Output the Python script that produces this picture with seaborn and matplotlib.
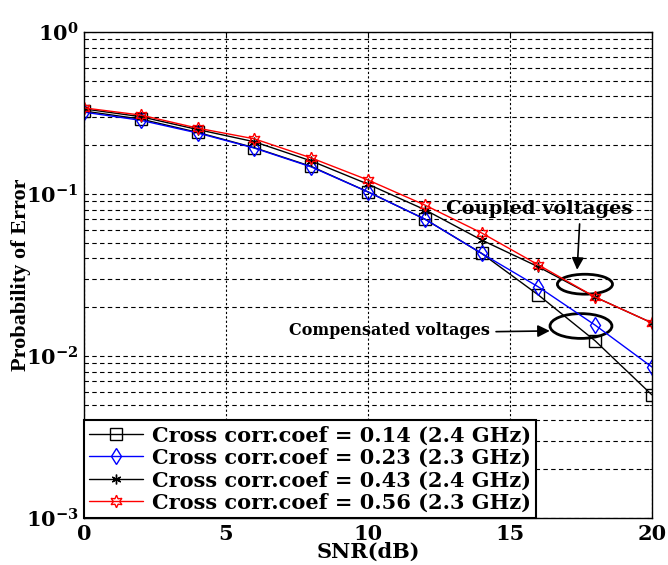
import numpy as np
import pandas as pd
import matplotlib
matplotlib.use("Agg")
import matplotlib.pyplot as plt
from matplotlib.patches import Ellipse
import seaborn as sns

# values
snr_db = [0, 2, 4, 6, 8, 10, 12, 14, 16, 18, 20]
pe_014 = [0.325, 0.29, 0.24, 0.193, 0.148, 0.103, 0.070, 0.043, 0.0238, 0.0124, 0.00575]
pe_023 = [0.32, 0.285, 0.238, 0.192, 0.147, 0.103, 0.070, 0.043, 0.0267, 0.0155, 0.00855]
pe_043 = [0.335, 0.30, 0.25, 0.21, 0.16, 0.115, 0.080, 0.052, 0.0355, 0.0231, 0.016]
pe_056 = [0.34, 0.307, 0.255, 0.219, 0.167, 0.122, 0.0855, 0.0575, 0.0365, 0.0231, 0.016]

labels = ["Cross corr.coef = 0.14 (2.4 GHz)",
          "Cross corr.coef = 0.23 (2.3 GHz)",
          "Cross corr.coef = 0.43 (2.4 GHz)",
          "Cross corr.coef = 0.56 (2.3 GHz)"]
series = [pe_014, pe_023, pe_043, pe_056]
colors = ["black", "blue", "black", "red"]
markers = ["s", "d", (6, 2, 0), (6, 1, 0)]
msizes = [8, 8, 7, 9]

sns.set_style("white")
plt.rcParams['font.family'] = ['DejaVu Serif']
plt.rcParams['font.weight'] = 'bold'
plt.rcParams['mathtext.fontset'] = 'dejavuserif'
plt.rcParams['mathtext.default'] = 'bf'
for k in ['text.color', 'axes.labelcolor', 'xtick.color', 'ytick.color']:
    plt.rcParams[k] = 'black'

fig = plt.figure(figsize=(6.68, 5.65), dpi=100)
ax = fig.add_axes([0.1257, 0.0832, 0.8503, 0.8602])

for vals, lab, c, m, ms in zip(series, labels, colors, markers, msizes):
    df = pd.DataFrame({"snr": snr_db, "pe": vals})
    sns.lineplot(data=df, x="snr", y="pe", ax=ax, color=c, marker=m,
                 markersize=ms, markerfacecolor="none", markeredgecolor=c,
                 markeredgewidth=1.0, linewidth=1.0, label=lab)

ax.set_yscale("log")
ax.set_xlim(0, 20)
ax.set_ylim(1e-3, 1)
ax.set_xticks([0, 5, 10, 15, 20])
ax.set_yticks([1e-3, 1e-2, 1e-1, 1])
ax.set_yticklabels([r"$10^{-3}$", r"$10^{-2}$", r"$10^{-1}$", r"$10^{0}$"])
ax.tick_params(axis="x", labelsize=15, direction="in", top=True, pad=4)
ax.tick_params(axis="y", labelsize=15, direction="in", right=True, pad=4)
ax.tick_params(axis="y", which="minor", direction="in", right=True)

# grid: dashed horizontals at every decade sub-tick, dotted verticals
ax.grid(True, axis="y", which="both", color="black", linestyle=(0, (4, 3)), linewidth=0.8)
ax.grid(True, axis="x", which="major", color="black", linestyle=(0, (2, 2)), linewidth=0.8)
for s in ax.spines.values():
    s.set_color("black")
    s.set_linewidth(1.0)

ax.set_xlabel("SNR(dB)", fontsize=15, fontweight="bold", labelpad=-1)
ax.set_ylabel("Probability of Error", fontsize=16, fontweight="bold",
              family="Liberation Serif")
ax.yaxis.set_label_coords(-0.093, 0.5)

leg = ax.legend(loc="lower left", fontsize=15, frameon=True, fancybox=False,
                edgecolor="black", framealpha=1, borderaxespad=0,
                handlelength=2.6, handletextpad=0.4, labelspacing=0.12,
                borderpad=0.25)
leg.get_frame().set_linewidth(1.5)

# annotations
ax.add_patch(Ellipse((0.882, 0.481), 0.097, 0.041, transform=ax.transAxes,
                     fill=False, edgecolor="black", linewidth=2))
ax.add_patch(Ellipse((0.875, 0.395), 0.109, 0.051, transform=ax.transAxes,
                     fill=False, edgecolor="black", linewidth=2))
ax.annotate("Coupled voltages", xy=(0.868, 0.505), xytext=(0.801, 0.636),
            xycoords="axes fraction", textcoords="axes fraction",
            ha="center", va="center", fontsize=14, fontweight="bold",
            arrowprops=dict(arrowstyle="-|>", color="black", lw=1.2,
                            mutation_scale=18, relpos=(0.72, 0.0)))
ax.annotate("Compensated voltages", xy=(0.825, 0.385), xytext=(0.538, 0.385),
            xycoords="axes fraction", textcoords="axes fraction",
            ha="center", va="center", fontsize=11.5, fontweight="bold",
            arrowprops=dict(arrowstyle="-|>", color="black", lw=1.2,
                            mutation_scale=18, relpos=(1.0, 0.45)))

fig.savefig("out.png", dpi=100, facecolor="white")
